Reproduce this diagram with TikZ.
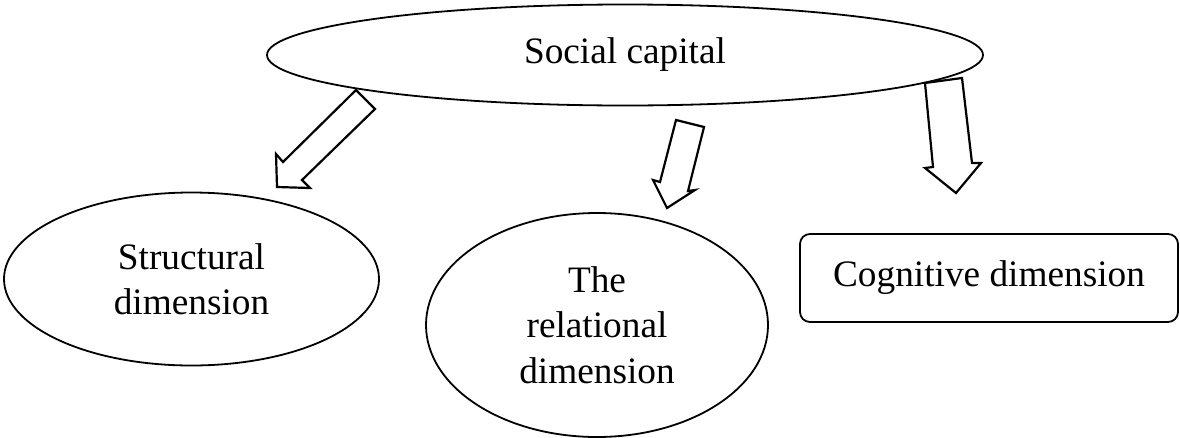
\documentclass[tikz,border=0pt]{standalone}
\usepackage{fontspec}
\setmainfont{Liberation Serif}
\usetikzlibrary{shapes.geometric}
\begin{document}
\begin{tikzpicture}[x=1pt,y=-1pt,
  lbl/.style={font=\fontsize{37.3}{45.5}\selectfont, align=center, inner sep=0pt},
  oval/.style={lbl, ellipse, draw, line width=1.8pt},
  rbox/.style={lbl, draw, rectangle, rounded corners=10pt, line width=1.8pt},
  blockarrow/.style={draw, line width=2.2pt, line join=miter, fill=white}]
\useasboundingbox (0,0) rectangle (1180,437);

% main concept
\node[oval, minimum width=716pt, minimum height=101pt] (sc) at (625,55) {Social capital};

% the three dimensions
\node[oval, minimum width=375pt, minimum height=173pt] (sd) at (191.5,279) {Structural\\dimension};
\node[oval, minimum width=342pt, minimum height=224pt] (rd) at (597,325) {The\\relational\\dimension};
\node[rbox, minimum width=378pt, minimum height=88pt] (cd) at (989,278) {Cognitive dimension};

% block arrows from the main concept to each dimension
\draw[blockarrow] (356,90) -- (375,109) -- (302,180) -- (310,188) -- (277,187) -- (276,154) -- (283,162) -- cycle;
\draw[blockarrow] (676,120) -- (704,127) -- (688,191) -- (695,190) -- (667,208) -- (653,180) -- (660,182) -- cycle;
\draw[blockarrow] (925,83) -- (962,78) -- (972,163) -- (981,163) -- (956,193) -- (925,168) -- (933,167) -- cycle;
\end{tikzpicture}
\end{document}
